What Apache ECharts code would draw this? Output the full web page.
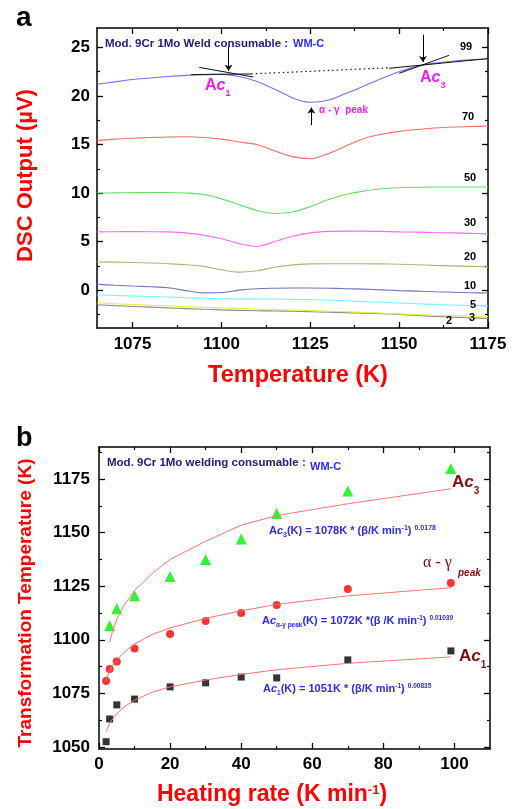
<!DOCTYPE html>
<html>
<head>
<meta charset="utf-8">
<script src="https://cdn.jsdelivr.net/npm/echarts@6.0.0/dist/echarts.min.js"></script>
<style>
html, body { margin: 0; padding: 0; background: #fff; }
#chart { width: 515px; height: 809px; }
</style>
</head>
<body>
<div id="chart"></div>
<script>
// ---- panel a : DSC traces (µV) read at every 5 K ----
const tempK = [1065, 1070, 1075, 1080, 1085, 1090, 1095, 1100, 1105, 1110, 1115, 1120,
               1125, 1130, 1135, 1140, 1145, 1150, 1155, 1160, 1165, 1170, 1175];
const dsc99 = [21.2, 21.45, 21.7, 21.85, 22.0, 22.12, 22.2, 22.22, 22.0, 21.5, 20.7, 19.8,
               19.35, 19.55, 20.25, 21.0, 21.8, 22.5, 23.05, 23.38, 23.58, 23.72, 23.8];
const dsc70 = [15.4, 15.55, 15.65, 15.72, 15.78, 15.8, 15.72, 15.55, 15.25, 15.0, 14.35, 13.75,
               13.55, 14.05, 14.85, 15.6, 16.05, 16.35, 16.55, 16.7, 16.8, 16.85, 16.9];
const dsc50 = [10.0, 10.02, 10.04, 10.05, 10.05, 10.0, 9.85, 9.4, 8.8, 8.2, 7.9, 8.05,
               8.6, 9.3, 9.85, 10.2, 10.45, 10.55, 10.6, 10.62, 10.63, 10.63, 10.63];
const dsc30 = [6.0, 6.02, 6.03, 6.02, 6.0, 5.9, 5.65, 5.3, 4.8, 4.5, 5.0, 5.55,
               5.9, 6.05, 6.08, 6.08, 6.05, 6.0, 5.97, 5.93, 5.9, 5.85, 5.8];
const dsc20 = [2.9, 2.88, 2.85, 2.8, 2.72, 2.62, 2.45, 2.1, 1.85, 2.0, 2.35, 2.6,
               2.7, 2.72, 2.72, 2.72, 2.7, 2.67, 2.62, 2.55, 2.5, 2.45, 2.4];
const dsc10 = [0.6, 0.5, 0.42, 0.35, 0.25, -0.05, -0.28, -0.25, 0.0, 0.15, 0.2, 0.22,
               0.22, 0.2, 0.15, 0.1, 0.03, -0.05, -0.1, -0.17, -0.22, -0.27, -0.3];
const dsc5 = [-0.5, -0.55, -0.6, -0.65, -0.7, -0.77, -0.83, -0.88, -0.9, -0.9, -0.92, -0.95,
              -0.98, -1.02, -1.1, -1.18, -1.25, -1.32, -1.4, -1.47, -1.53, -1.58, -1.62];
const dsc3 = [-1.3, -1.4, -1.48, -1.55, -1.62, -1.7, -1.77, -1.83, -1.88, -1.95, -2.0, -2.05,
              -2.1, -2.17, -2.23, -2.3, -2.37, -2.45, -2.52, -2.58, -2.63, -2.68, -2.72];
const dsc2 = [-1.5, -1.6, -1.68, -1.75, -1.83, -1.9, -1.97, -2.03, -2.08, -2.12, -2.15, -2.18,
              -2.22, -2.27, -2.32, -2.37, -2.42, -2.5, -2.6, -2.7, -2.78, -2.85, -2.92];
const tempTicks = [1075, 1100, 1125, 1150, 1175];
const tempMinor = [1087.5, 1112.5, 1137.5, 1162.5];
const dscTicks = [0, 5, 10, 15, 20, 25];
const dscMinor = [-2.5, 2.5, 7.5, 12.5, 17.5, 22.5];

// construction lines on the 99 K/min trace [K, µV]
const ac1Tangent = [[1093.8, 22.94], [1109, 21.95]];
const ac1Base = [[1091.5, 22.2], [1108.4, 22.27]];
const dottedBase = [[1108.4, 22.27], [1147.2, 22.9]];
const ac3Base = [[1147.2, 22.85], [1175, 23.85]];
const ac3Tangent = [[1150, 22.33], [1164, 24.18]];
const arrows = [
  [[1102, 25.1], [1102, 22.6]],
  [[1156.7, 26.3], [1156.7, 23.5]],
  [[1125.3, 17.0], [1125.3, 18.8]]
];

// ---- panel b : transformation temperatures (K) vs heating rate ----
const ac3Rates = [3, 5, 10, 20, 30, 40, 50, 70, 99];
const ac3K = [1106.5, 1114.5, 1120.5, 1129.5, 1137.5, 1147, 1159, 1169.5, 1180];
const rates = [2, 3, 5, 10, 20, 30, 40, 50, 70, 99];
const peakK = [1080.8, 1086.4, 1089.8, 1095.9, 1102.7, 1108.8, 1112.5, 1116.2, 1123.7, 1126.5];
const ac1K = [1052.4, 1063, 1069.6, 1072.3, 1078, 1079.9, 1082.6, 1082.2, 1090.6, 1094.8];
const fitRates = [2, 3, 4, 5, 7, 10, 15, 20, 30, 40, 50, 70, 99];
const ac3Fit = [null, 1099, 1105, 1109.5, 1116, 1123, 1131, 1137.5, 1146, 1153.5, 1158, 1163.5, 1170.5];
const peakFit = [1081, 1085.5, 1088.3, 1090.5, 1094, 1098, 1102.5, 1105.5, 1110, 1113.5, 1116.5, 1120.5, 1124.3];
const ac1Fit = [1057, 1061, 1063.5, 1065.5, 1068.5, 1071.8, 1075.5, 1078, 1081.2, 1083.8, 1086, 1089, 1092];
const rateTicks = [0, 20, 40, 60, 80, 100];
const rateMinor = [10, 30, 50, 70, 90];
const kTicks = [1050, 1075, 1100, 1125, 1150, 1175];
const kMinor = [1062.5, 1087.5, 1112.5, 1137.5, 1162.5, 1187.5];

const FONT = 'Liberation Sans, Arial, sans-serif';
const zip = (xs, ys) => xs.map((x, i) => [x, ys[i]]);

// four axes per side pair: labelled + minor ticks, opposite side + its minor ticks
function boxAxes(dim, grid, min, max, majors, minors, margin) {
  const sides = dim === 'x' ? ['bottom', 'top'] : ['left', 'right'];
  const list = [];
  sides.forEach((side, i) => {
    list.push({
      type: 'value', gridIndex: grid, position: side, min: min, max: max,
      axisLine: { show: true, onZero: false, lineStyle: { color: '#000', width: 1.5 } },
      axisTick: { show: true, inside: true, length: 6, customValues: majors,
                  lineStyle: { color: '#000', width: 1.3 } },
      axisLabel: i === 0
        ? { show: true, customValues: majors, margin: margin, color: '#000',
            fontSize: 17, fontWeight: 'bold', fontFamily: FONT,
            formatter: v => String(v) }
        : { show: false },
      splitLine: { show: false }
    });
    list.push({
      type: 'value', gridIndex: grid, position: side, min: min, max: max,
      axisLine: { show: false, onZero: false },
      axisTick: { show: true, inside: true, length: 3, customValues: minors,
                  lineStyle: { color: '#000', width: 1.2 } },
      axisLabel: { show: false },
      splitLine: { show: false }
    });
  });
  return list;
}

const dscSets = [
  [dsc2, '#8a8a8a'], [dsc3, '#eeee3c'], [dsc5, '#6cf8f8'], [dsc10, '#7474c4'],
  [dsc20, '#b7b272'], [dsc30, '#ff68ff'], [dsc50, '#66e066'], [dsc70, '#ff6a6a'], [dsc99, '#7272ff']
];

const series = [];
dscSets.forEach(([vals, color]) => {
  series.push({
    type: 'line', xAxisIndex: 0, yAxisIndex: 0, data: zip(tempK, vals),
    smooth: 0.3, showSymbol: false, silent: true,
    lineStyle: { color: color, width: 1.1 }
  });
});
[ac1Tangent, ac1Base, ac3Base, ac3Tangent].forEach(seg => {
  series.push({
    type: 'line', xAxisIndex: 0, yAxisIndex: 0, data: seg, showSymbol: false, silent: true,
    lineStyle: { color: '#111', width: 1 }
  });
});
series.push({
  type: 'line', xAxisIndex: 0, yAxisIndex: 0, data: dottedBase, showSymbol: false, silent: true,
  lineStyle: { color: '#111', width: 1.2, type: [1.5, 3] }
});
series.push({
  type: 'lines', coordinateSystem: 'cartesian2d', xAxisIndex: 0, yAxisIndex: 0, silent: true,
  symbol: ['none', 'arrow'], symbolSize: 6,
  lineStyle: { color: '#000', width: 1, opacity: 1 },
  data: arrows.map(c => ({ coords: c }))
});

// panel b fits and points
[ac3Fit, peakFit, ac1Fit].forEach(fit => {
  series.push({
    type: 'line', xAxisIndex: 4, yAxisIndex: 4, data: zip(fitRates, fit),
    showSymbol: false, silent: true, connectNulls: false,
    lineStyle: { color: '#ff7272', width: 1 }
  });
});
series.push({
  type: 'scatter', xAxisIndex: 4, yAxisIndex: 4, data: zip(ac3Rates, ac3K),
  symbol: 'triangle', symbolSize: 11, itemStyle: { color: '#00ee00' }
});
series.push({
  type: 'scatter', xAxisIndex: 4, yAxisIndex: 4, data: zip(rates, peakK),
  symbol: 'circle', symbolSize: 8, itemStyle: { color: '#ff0000' }
});
series.push({
  type: 'scatter', xAxisIndex: 4, yAxisIndex: 4, data: zip(rates, ac1K),
  symbol: 'rect', symbolSize: 7, itemStyle: { color: '#000' }
});

// text helpers
function txt(x, y, text, style, extra) {
  return Object.assign({
    type: 'text', x: x, y: y, z: 100, silent: true,
    style: Object.assign({ text: text, fontFamily: FONT, fontWeight: 'bold', fontSize: 11,
                           fill: '#000', align: 'left', verticalAlign: 'middle' }, style)
  }, extra || {});
}
function richSet(color, size, small, family) {
  const f = family || FONT;
  return {
    n: { fill: color, fontSize: size, fontWeight: 'bold', fontFamily: f, verticalAlign: 'top', lineHeight: size },
    i: { fill: color, fontSize: size, fontWeight: 'bold', fontStyle: 'italic', fontFamily: f, verticalAlign: 'top', lineHeight: size },
    sub: { fill: color, fontSize: small, fontWeight: 'bold', fontFamily: FONT, verticalAlign: 'bottom', lineHeight: Math.round(size * 1.3) },
    sup: { fill: color, fontSize: small, fontWeight: 'bold', fontFamily: FONT, verticalAlign: 'top', lineHeight: small }
  };
}
const MAG = '#f020f0', NAVY = '#20207e', BLUE = '#2b2bf0', DRED = '#7d0f0f', RED = '#ff0000';

const graphic = [
  txt(16, 18.5, 'a', { fontSize: 28 }),
  txt(16, 438.5, 'b', { fontSize: 27 }),
  // axis titles
  txt(26, 175.5, 'DSC Output (µV)', { fontSize: 22, fill: RED, align: 'center' }, { rotation: Math.PI / 2 }),
  txt(298, 376, 'Temperature (K)', { fontSize: 23.5, fill: RED, align: 'center' }),
  txt(26, 603, 'Transformation Temperature (K)', { fontSize: 19, fill: RED, align: 'center' }, { rotation: Math.PI / 2 }),
  txt(272, 795, '{n|Heating rate (K min}{sup|-1}{n|)}', { align: 'center', rich: richSet(RED, 23, 13) }),
  // panel a annotations
  txt(105, 44, 'Mod. 9Cr 1Mo Weld consumable :', { fontSize: 11.5, fill: NAVY }),
  txt(293, 44, 'WM-C', { fontSize: 11, fill: BLUE }),
  txt(205, 88, '{n|A}{i|c}{sub|1}', { rich: richSet(MAG, 16, 9) }),
  txt(420, 80, '{n|A}{i|c}{sub|3}', { rich: richSet(MAG, 16, 9) }),
  txt(319, 110, 'α - γ  peak', { fontSize: 10, fill: MAG }),
  // heating rate of each trace
  txt(466, 47, '99', { align: 'center' }),
  txt(468, 117, '70', { align: 'center' }),
  txt(470, 178, '50', { align: 'center' }),
  txt(470, 223, '30', { align: 'center' }),
  txt(470, 257, '20', { align: 'center' }),
  txt(470, 286, '10', { align: 'center' }),
  txt(473, 305, '5', { align: 'center' }),
  txt(472, 318, '3', { align: 'center' }),
  txt(449, 321, '2', { align: 'center' }),
  // panel b annotations
  txt(107, 463, 'Mod. 9Cr 1Mo welding consumable :', { fontSize: 11.5, fill: NAVY }),
  txt(310, 467, 'WM-C', { fontSize: 11, fill: BLUE }),
  txt(452, 485, '{n|A}{i|c}{sub|3}', { rich: richSet(DRED, 17, 10) }),
  txt(459, 659, '{n|A}{i|c}{sub|1}', { rich: richSet(DRED, 17, 10) }),
  txt(423, 563, 'α - γ', { fontSize: 16, fontWeight: 'normal', fill: DRED, fontFamily: 'Liberation Serif, serif' }),
  txt(458, 573, 'peak', { fontSize: 10, fontStyle: 'italic', fill: DRED }),
  txt(269, 532, '{n|A}{i|c}{sub|3}{n|(K) = 1078K * (β/K min}{sup|-1}{n|) }{sup|0.0178}',
      { rich: richSet(BLUE, 11, 7) }),
  txt(262, 622, '{n|A}{i|c}{sub|α-γ peak}{n|(K) = 1072K *(β /K min}{sup|-1}{n|) }{sup|0.01039}',
      { rich: richSet(BLUE, 11, 6.5) }),
  txt(263, 690, '{n|A}{i|c}{sub|1}{n|(K) = 1051K * (β/K min}{sup|-1}{n|) }{sup|0.00835}',
      { rich: richSet(BLUE, 11, 6.5) })
];

const chart = echarts.init(document.getElementById('chart'));
const option = {
  animation: false,
  backgroundColor: '#fff',
  grid: [
    { left: 97, top: 28, width: 391, height: 300 },
    { left: 99, top: 447, width: 391, height: 302 }
  ],
  xAxis: [
    ...boxAxes('x', 0, 1065, 1175, tempTicks, tempMinor, 8),
    ...boxAxes('x', 1, 0, 110, rateTicks, rateMinor, 7)
  ],
  yAxis: [
    ...boxAxes('y', 0, -3.9, 27, dscTicks, dscMinor, 7),
    ...boxAxes('y', 1, 1049, 1190, kTicks, kMinor, 9)
  ],
  series: series,
  graphic: graphic
};
chart.setOption(option);
</script>
</body>
</html>
